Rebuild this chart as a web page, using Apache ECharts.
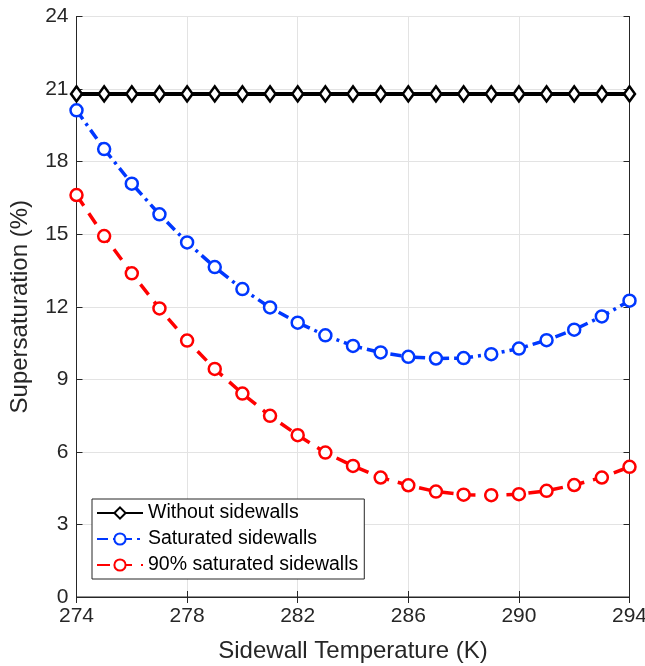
<!DOCTYPE html>
<html><head><meta charset="utf-8">
<script src="https://cdn.jsdelivr.net/npm/echarts@6/dist/echarts.min.js"></script>
<style>html,body{margin:0;padding:0;background:#fff}#c{width:645px;height:666px}</style>
</head><body><div id="c"></div>
<script>
const temps = [274,275,276,277,278,279,280,281,282,283,284,285,286,287,288,289,290,291,292,293,294];
const withoutSidewalls = [20.8,20.8,20.8,20.8,20.8,20.8,20.8,20.8,20.8,20.8,20.8,20.8,20.8,20.8,20.8,20.8,20.8,20.8,20.8,20.8,20.8];
const saturated = [20.12,18.52,17.09,15.82,14.66,13.64,12.73,11.97,11.34,10.82,10.38,10.11,9.93,9.86,9.88,10.04,10.27,10.62,11.05,11.6,12.25];
const saturated90 = [16.62,14.92,13.38,11.93,10.6,9.43,8.41,7.49,6.69,5.97,5.42,4.94,4.62,4.36,4.23,4.21,4.25,4.39,4.63,4.94,5.38];
const names = ['Without sidewalls','Saturated sidewalls','90% saturated sidewalls'];

const font = 'Liberation Sans, Arial, Helvetica, sans-serif';
const axisCol = '#262626';
function pairs(v){ return temps.map((t,i)=>[t,v[i]]); }

const chart = echarts.init(document.getElementById('c'), null, {renderer:'canvas'});
const baseX = {type:'value', min:274, max:294, interval:4};
const baseY = {type:'value', min:0, max:24, interval:3};
chart.setOption({
  animation:false,
  backgroundColor:'#fff',
  grid:{left:76.5, right:15.5, top:16.5, bottom:69, containLabel:false, outerBoundsMode:'none',
        show:true, borderColor:axisCol, borderWidth:1, backgroundColor:'transparent'},
  legend:{
    orient:'vertical', left:92, top:499, width:274,
    backgroundColor:'#fff', borderColor:axisCol, borderWidth:1,
    padding:[4,6,4,4], itemGap:6, itemWidth:46, itemHeight:14,
    textStyle:{fontFamily:font, fontSize:19.5, lineHeight:20, color:'#000'},
    data:names
  },
  xAxis:[
    Object.assign({}, baseX, {
      position:'bottom',
      name:'Sidewall Temperature (K)', nameLocation:'middle', nameGap:42,
      nameTextStyle:{fontFamily:font, fontSize:24, color:axisCol},
      axisLine:{show:true, lineStyle:{color:axisCol, width:1}},
      axisTick:{show:true, inside:true, length:6, lineStyle:{color:axisCol}},
      axisLabel:{fontFamily:font, fontSize:21, color:axisCol, margin:9},
      splitLine:{show:true, lineStyle:{color:'#e3e3e3', width:1}}
    }),
    Object.assign({}, baseX, {
      position:'top',
      axisLine:{show:true, lineStyle:{color:axisCol, width:1}},
      axisTick:{show:true, inside:true, length:6, lineStyle:{color:axisCol}},
      axisLabel:{show:false}, splitLine:{show:false}
    })
  ],
  yAxis:[
    Object.assign({}, baseY, {
      position:'left',
      name:'Supersaturation (%)', nameLocation:'middle', nameGap:44,
      nameTextStyle:{fontFamily:font, fontSize:24, color:axisCol},
      axisLine:{show:true, lineStyle:{color:axisCol, width:1}},
      axisTick:{show:true, inside:true, length:6, lineStyle:{color:axisCol}},
      axisLabel:{fontFamily:font, fontSize:21, color:axisCol, margin:8},
      splitLine:{show:true, lineStyle:{color:'#e3e3e3', width:1}}
    }),
    Object.assign({}, baseY, {
      position:'right',
      axisLine:{show:true, lineStyle:{color:axisCol, width:1}},
      axisTick:{show:true, inside:true, length:6, lineStyle:{color:axisCol}},
      axisLabel:{show:false}, splitLine:{show:false}
    })
  ],
  series:[
    {
      name:names[0], type:'line', data:pairs(withoutSidewalls),
      symbol:'diamond', symbolSize:[11,15], showAllSymbol:true,
      lineStyle:{color:'#000', width:4, type:'solid'},
      itemStyle:{color:'#fff', borderColor:'#000', borderWidth:2.5},
      z:3
    },
    {
      name:names[1], type:'line', data:pairs(saturated),
      symbol:'circle', symbolSize:12, showAllSymbol:true,
      lineStyle:{color:'#0038ff', width:3.5, type:[11,5,3,5]},
      itemStyle:{color:'#fff', borderColor:'#0038ff', borderWidth:2.5},
      z:2
    },
    {
      name:names[2], type:'line', data:pairs(saturated90),
      symbol:'circle', symbolSize:12, showAllSymbol:true,
      lineStyle:{color:'#ff0000', width:3.5, type:[13,9]},
      itemStyle:{color:'#fff', borderColor:'#ff0000', borderWidth:2.5},
      z:2
    }
  ]
});
</script></body></html>
